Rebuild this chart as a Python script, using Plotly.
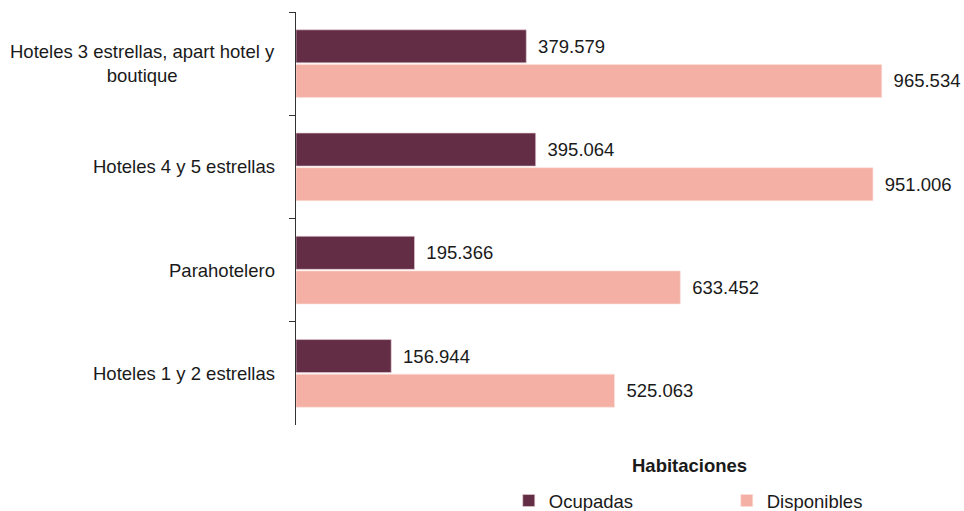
import plotly.graph_objects as go

categories = ["Hoteles 3 estrellas, apart hotel y<br>boutique", "Hoteles 4 y 5 estrellas",
              "Parahotelero", "Hoteles 1 y 2 estrellas"]
ocupadas = [379579, 395064, 195366, 156944]
disponibles = [965534, 951006, 633452, 525063]
legend_title = "Habitaciones"

FONT = "Liberation Sans, Arial, Helvetica, sans-serif"
TXT = "#1a1a1a"
FS = 18.5

fig = go.Figure()
fig.add_trace(go.Bar(
    y=categories, x=ocupadas, orientation="h", name="Ocupadas",
    marker=dict(color="#632e45", line=dict(color="#e8cdd3", width=0.6)),
    texttemplate="\u00a0\u2009%{x:,.0f}", textposition="outside",
    textfont=dict(size=FS, color=TXT, family=FONT), cliponaxis=False,
    constraintext="none",
))
fig.add_trace(go.Bar(
    y=categories, x=disponibles, orientation="h", name="Disponibles",
    marker=dict(color="#f4b0a4", line=dict(color="#fbe3de", width=0.6)),
    texttemplate="\u00a0\u2009%{x:,.0f}", textposition="outside",
    textfont=dict(size=FS, color=TXT, family=FONT), cliponaxis=False,
    constraintext="none",
))

# category labels (centered multi-line, right-anchored block)
for c in categories:
    fig.add_annotation(
        text=c, xref="paper", x=0, xanchor="right", xshift=-19,
        yref="y", y=c, yanchor="middle", align="center", showarrow=False,
        font=dict(size=FS, color=TXT, family=FONT),
    )

# legend title
fig.add_annotation(
    text=f"<b>{legend_title}</b>", xref="paper", x=0.617, xanchor="center",
    yref="paper", y=-0.097, yanchor="middle", showarrow=False,
    font=dict(size=FS, color=TXT, family=FONT),
)

fig.update_layout(
    width=964, height=511,
    margin=dict(l=296, r=31, t=12, b=86, autoexpand=False),
    paper_bgcolor="white", plot_bgcolor="white",
    barmode="group", bargap=0.33, bargroupgap=0.045,
    separators=",.",
    font=dict(family=FONT, size=FS, color=TXT),
    showlegend=True,
    legend=dict(
        orientation="h", x=0.334, xanchor="left", y=-0.184, yanchor="middle",
        font=dict(size=FS, color=TXT, family=FONT),
        entrywidth=173, entrywidthmode="pixels",
        itemwidth=30, traceorder="normal",
    ),
    xaxis=dict(range=[0, 1050000], visible=False, showgrid=False, zeroline=False),
    yaxis=dict(
        autorange="reversed", showline=True, linecolor="#333", linewidth=1,
        ticks="outside", ticklen=6, tickcolor="#333", tickson="boundaries",
        showgrid=False, showticklabels=False, automargin=False,
    ),
)

fig.write_html("out.html", config={"displayModeBar": False},
               post_script="document.body.style.margin='0';")
